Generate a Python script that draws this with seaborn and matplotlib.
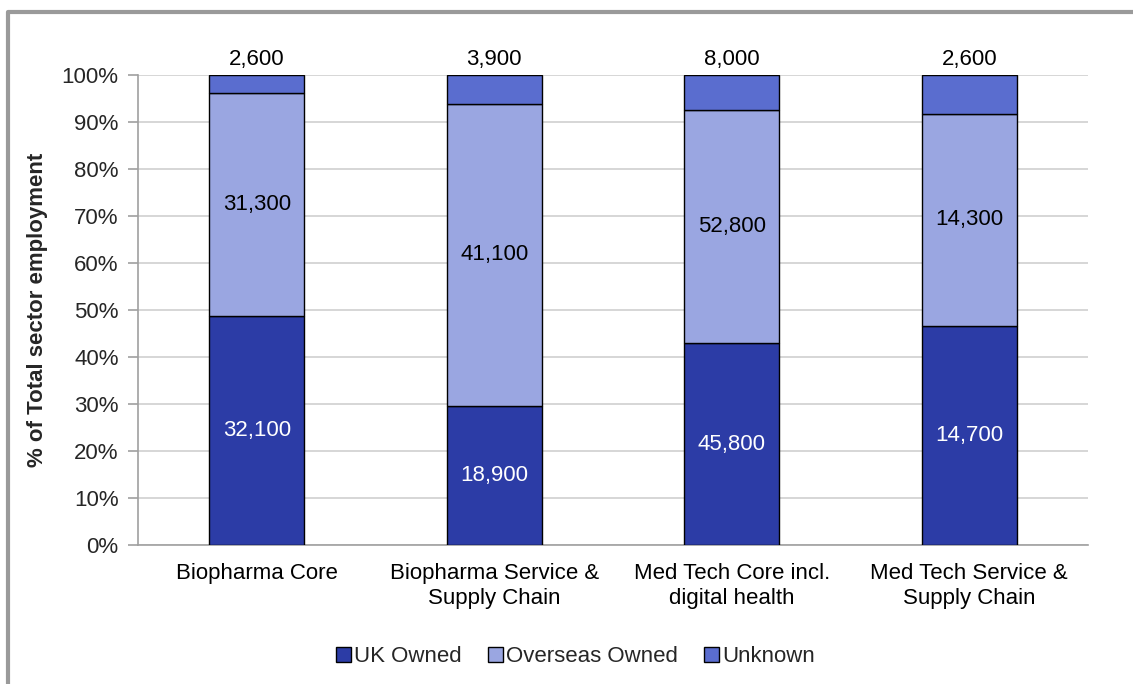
import matplotlib
matplotlib.use("Agg")
import matplotlib.pyplot as plt
import seaborn as sns
import numpy as np
import pandas as pd
from matplotlib.lines import Line2D
from matplotlib.patches import Patch

categories = ["Biopharma Core", "Biopharma Service &\nSupply Chain",
              "Med Tech Core incl.\ndigital health", "Med Tech Service &\nSupply Chain"]
uk_owned = [32100, 18900, 45800, 14700]
overseas_owned = [31300, 41100, 52800, 14300]
unknown = [2600, 3900, 8000, 2600]
series_names = ["UK Owned", "Overseas Owned", "Unknown"]
colors = ["#2C3CA6", "#9AA6E1", "#5A6DCF"]
y_ticks = [0, 10, 20, 30, 40, 50, 60, 70, 80, 90, 100]

sns.set_theme(style="white")
plt.rcParams['font.family'] = ['Liberation Sans', 'DejaVu Sans']
FS = 16

totals = np.array(uk_owned) + np.array(overseas_owned) + np.array(unknown)
series = [np.array(uk_owned), np.array(overseas_owned), np.array(unknown)]
pcts = [s / totals * 100 for s in series]

fig = plt.figure(figsize=(11.33, 6.84), dpi=100)
ax = fig.add_axes([0.1218, 0.2032, 0.8385, 0.6872])

bottom = np.zeros(len(categories))
for name, p, c in zip(series_names, pcts, colors):
    df = pd.DataFrame({"cat": categories, "pct": p})
    sns.barplot(data=df, x="cat", y="pct", order=categories, bottom=bottom,
                color=c, width=0.4, edgecolor="black", linewidth=1.0,
                saturation=1, ax=ax, zorder=3, errorbar=None)
    bottom = bottom + p

# labels
cum = np.zeros(len(categories))
for i, (s, p) in enumerate(zip(series, pcts)):
    for j in range(len(categories)):
        txt = f"{s[j]:,}"
        if i == 2:
            ax.text(j, 101.0, txt, ha="center", va="bottom", fontsize=FS, color="black")
        else:
            ax.text(j, cum[j] + p[j] / 2, txt, ha="center", va="center", fontsize=FS,
                    color="white" if i == 0 else "black", zorder=5)
    cum = cum + p

ax.set_ylim(0, 100)
ax.set_xlim(-0.5, 3.5)
ax.set_yticks(y_ticks)
ax.set_yticklabels([f"{t}%" for t in y_ticks], fontsize=FS)
ax.set_xticks(range(len(categories)))
ax.set_xticklabels(categories, fontsize=FS, linespacing=1.25)
ax.set_xlabel("")
ax.set_ylabel("% of Total sector employment", fontsize=FS, fontweight="bold", labelpad=10)
ax.yaxis.grid(True, color="#CFCFCF", linewidth=1.2, zorder=0)
ax.set_axisbelow(True)
for sp in ["top", "right"]:
    ax.spines[sp].set_visible(False)
for sp in ["left", "bottom"]:
    ax.spines[sp].set_color("#A0A0A0")
    ax.spines[sp].set_linewidth(1.2)
ax.tick_params(axis="x", which="major", length=0, pad=13, colors="black")
ax.set_xticks([0.5, 1.5, 2.5], minor=True)
ax.tick_params(axis="x", which="minor", length=6, color="#A0A0A0", width=1.2, direction="out")
ax.tick_params(axis="y", which="major", left=True, length=7, color="#A0A0A0", width=1.2, pad=7, direction="out")

handles = [Patch(facecolor=c, edgecolor="black", linewidth=1.0) for c in colors]
fig.legend(handles, series_names, loc="center", bbox_to_anchor=(0.508, 0.04), ncol=3,
           frameon=False, fontsize=FS, handlelength=0.65, handleheight=0.65,
           handletextpad=0.15, columnspacing=1.2)

# outer frame (left and top edges visible)
fig.add_artist(Line2D([8/1133, 8/1133, 1.0], [0.0, 1 - 12/684, 1 - 12/684],
                      transform=fig.transFigure, color="#9A9A9A", linewidth=3))

fig.savefig("out.png", dpi=100)
